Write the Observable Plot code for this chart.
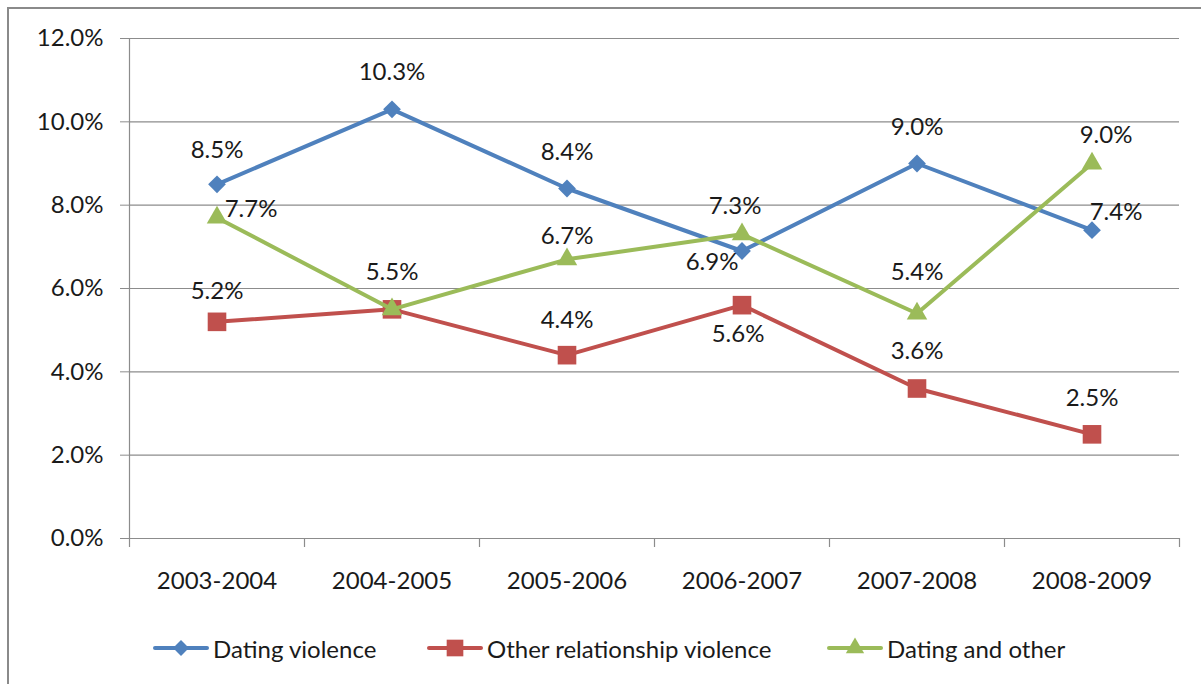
<!DOCTYPE html>
<html><head><meta charset="utf-8">
<script src="https://cdn.jsdelivr.net/npm/d3@7"></script>
<script src="https://cdn.jsdelivr.net/npm/@observablehq/plot@0.6"></script>
<style>
html,body{margin:0;padding:0;background:#fff;overflow:hidden;width:1201px;height:684px}
#frame{position:absolute;left:7px;top:7px;width:1400px;height:900px;border-left:2px solid #8a8a8a;border-top:2px solid #8a8a8a;}
#chart{position:absolute;left:0;top:0}
#legend{position:absolute;left:0;top:626px;width:1201px;height:44px;font-family:Lato,"Noto Sans",sans-serif;font-size:24px;color:#1a1a1a}
.item{position:absolute;top:0;height:44px;display:flex;align-items:center}
.item svg{display:block;margin-right:4px}
</style></head>
<body>
<div id="frame"></div>
<div id="chart"></div>
<div id="legend"></div>
<script>
// ---- data ----
const categories = ["2003-2004","2004-2005","2005-2006","2006-2007","2007-2008","2008-2009"];
const seriesNames = ["Dating violence","Other relationship violence","Dating and other"];
const datingViolence = [8.5,10.3,8.4,6.9,9.0,7.4];
const otherRelationshipViolence = [5.2,5.5,4.4,5.6,3.6,2.5];
const datingAndOther = [7.7,5.5,6.7,7.3,5.4,9.0];
const yTicks = [0,2,4,6,8,10,12];

// ---- layout / style ----
const colors = ["#4F81BD","#C0504D","#9BBB59"];
const symbols = ["diamond2","square","triangle"];
const symR = [8,10.5,7.6];
// label offsets [dx,dy] in px; null = label hidden (overlapped)
const labelOffsets = [
  [[0,-34],[0,-37],[0,-36],[-30,11],[0,-36],[24,-18]],
  [[0,-31],[0,-37],[0,-35],[-4,29],[0,-37],[0,-36]],
  [[34,-8],null,[0,-23],[-7,-28],[0,-41],[14,-28]]
];
const FONT = 'Lato, "Noto Sans", sans-serif';
const FS = 24;

const allSeries = [datingViolence, otherRelationshipViolence, datingAndOther];
const rows = allSeries.map((vals,si)=>vals.map((v,i)=>({cat:categories[i], v, s:seriesNames[si], si, i})));

const W = 1201, H = 610;
const marks = [];
// gridlines
marks.push(Plot.ruleY(yTicks.filter(d=>d>0), {stroke:"#8c8c8c", strokeWidth:1.2, strokeOpacity:1}));
// y axis
marks.push(Plot.axisY({ticks:yTicks, tickSize:9, tickPadding:17, tickFormat:d=>d.toFixed(1)+"%", fontSize:FS, fill:"#1a1a1a", stroke:"#8c8c8c", label:null}));
marks.push(Plot.ruleX([0], {x:()=>categories[0], dx:-87.5, y1:0, y2:12, stroke:"#8c8c8c", strokeWidth:1.2}));
// x axis baseline
marks.push(Plot.ruleY([0], {stroke:"#8c8c8c", strokeWidth:1.2}));
// x category boundary ticks
marks.push(Plot.ruleX(categories, {x:d=>d, dx:-87.5, y1:0, y2:0, insetBottom:-9, stroke:"#8c8c8c", strokeWidth:1.2}));
marks.push(Plot.ruleX([categories[categories.length-1]], {x:d=>d, dx:87.5, y1:0, y2:0, insetBottom:-9, stroke:"#8c8c8c", strokeWidth:1.2}));
marks.push(Plot.axisX({tickSize:0, tickPadding:33, fontSize:FS, fill:"#1a1a1a", label:null}));
// series
rows.forEach((data,si)=>{
  marks.push(Plot.line(data, {x:"cat", y:"v", stroke:colors[si], strokeWidth:4, strokeLinejoin:"round", strokeLinecap:"round"}));
  marks.push(Plot.dot(data, {x:"cat", y:"v", symbol:symbols[si], r:symR[si], fill:colors[si], stroke:"none"}));
});
// labels
rows.forEach((data,si)=>{
  data.forEach(d=>{
    const off = labelOffsets[si][d.i];
    if(!off) return;
    marks.push(Plot.text([d], {x:"cat", y:"v", text:d=>d.v.toFixed(1)+"%", dx:off[0], dy:off[1], fontSize:FS, fill:"#1a1a1a"}));
  });
});

const chart = Plot.plot({
  width:W, height:H,
  marginLeft:129, marginRight:22, marginTop:38, marginBottom:72,
  style:{fontFamily:FONT, background:"transparent", color:"#1a1a1a"},
  x:{type:"band", domain:categories, padding:0, axis:null},
  y:{domain:[0,12], axis:null},
  marks
});
document.getElementById("chart").appendChild(chart);

// legend
const legend = document.getElementById("legend");
const legendLeft = [153,427,827];
seriesNames.forEach((name,si)=>{
  const item = document.createElement("div");
  item.className = "item";
  item.style.left = legendLeft[si]+"px";
  const ns = "http://www.w3.org/2000/svg";
  const svg = document.createElementNS(ns,"svg");
  svg.setAttribute("width",56); svg.setAttribute("height",24);
  const line = document.createElementNS(ns,"line");
  line.setAttribute("x1",2); line.setAttribute("x2",54); line.setAttribute("y1",12); line.setAttribute("y2",12);
  line.setAttribute("stroke",colors[si]); line.setAttribute("stroke-width",4); line.setAttribute("stroke-linecap","round");
  svg.appendChild(line);
  const p = document.createElementNS(ns,"path");
  const sym = {diamond2:d3.symbolDiamond2, square:d3.symbolSquare, triangle:d3.symbolTriangle}[symbols[si]];
  p.setAttribute("d", d3.symbol(sym, Math.PI*symR[si]*symR[si]*0.8)());
  p.setAttribute("transform","translate(28,12)");
  p.setAttribute("fill",colors[si]);
  svg.appendChild(p);
  item.appendChild(svg);
  const t = document.createElement("span");
  t.textContent = name;
  item.appendChild(t);
  legend.appendChild(item);
});
</script>
</body></html>
